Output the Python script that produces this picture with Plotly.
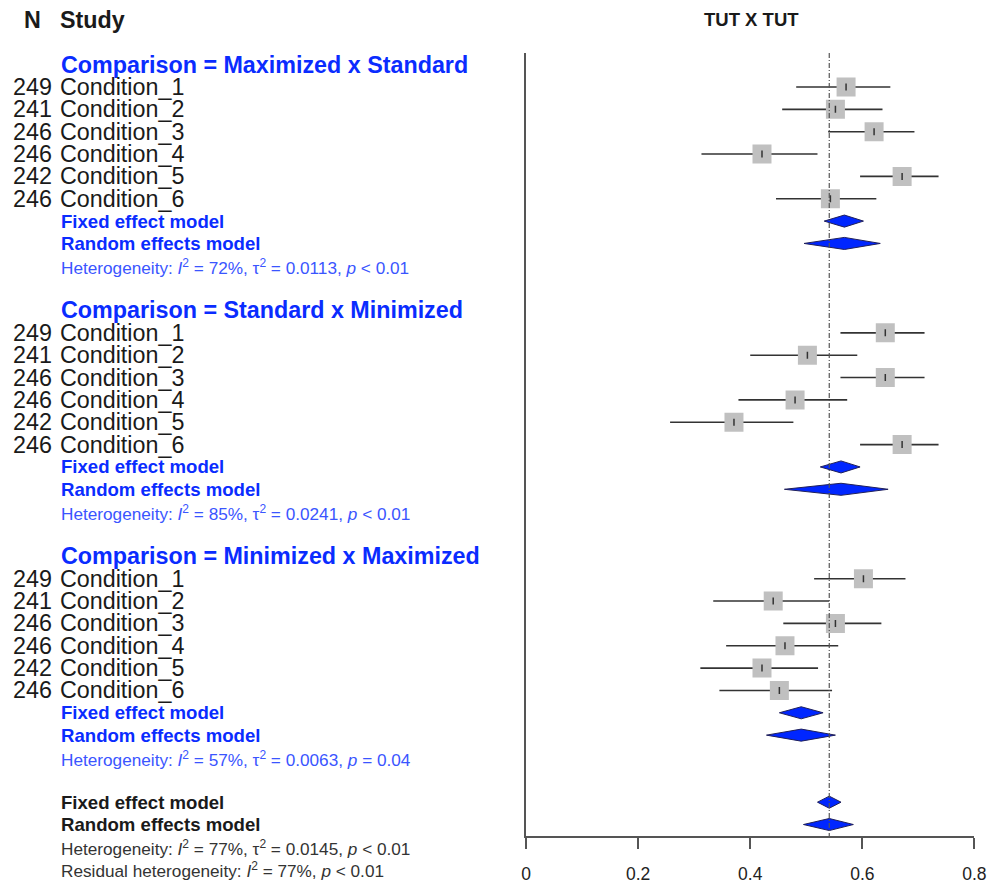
import plotly.graph_objects as go

# ---- data -------------------------------------------------------------
studies = ["Condition_1", "Condition_2", "Condition_3",
           "Condition_4", "Condition_5", "Condition_6"]
n_obs = [249, 241, 246, 246, 242, 246]

group_titles = ["Comparison = Maximized x Standard",
                "Comparison = Standard x Minimized",
                "Comparison = Minimized x Maximized"]

g1_est = [0.571, 0.552, 0.621, 0.421, 0.671, 0.543]
g1_lo = [0.482, 0.457, 0.539, 0.313, 0.596, 0.446]
g1_hi = [0.650, 0.636, 0.693, 0.520, 0.736, 0.625]
g1_fixed = [0.568, 0.532, 0.602]
g1_random = [0.568, 0.496, 0.632]

g2_est = [0.641, 0.502, 0.641, 0.480, 0.371, 0.671]
g2_lo = [0.561, 0.400, 0.561, 0.379, 0.257, 0.596]
g2_hi = [0.711, 0.591, 0.711, 0.573, 0.477, 0.736]
g2_fixed = [0.562, 0.525, 0.596]
g2_random = [0.562, 0.461, 0.646]

g3_est = [0.602, 0.441, 0.552, 0.462, 0.421, 0.452]
g3_lo = [0.514, 0.334, 0.459, 0.357, 0.311, 0.345]
g3_hi = [0.677, 0.541, 0.634, 0.557, 0.521, 0.546]
g3_fixed = [0.491, 0.452, 0.530]
g3_random = [0.491, 0.429, 0.552]

overall_fixed = [0.541, 0.520, 0.562]
overall_random = [0.541, 0.495, 0.584]

group_het = [
    "Heterogeneity: <i>I</i><sup>2</sup> = 72%, τ<sup>2</sup> = 0.0113, <i>p</i> &lt; 0.01",
    "Heterogeneity: <i>I</i><sup>2</sup> = 85%, τ<sup>2</sup> = 0.0241, <i>p</i> &lt; 0.01",
    "Heterogeneity: <i>I</i><sup>2</sup> = 57%, τ<sup>2</sup> = 0.0063, <i>p</i> = 0.04",
]
overall_het = "Heterogeneity: <i>I</i><sup>2</sup> = 77%, τ<sup>2</sup> = 0.0145, <i>p</i> &lt; 0.01"
resid_het = "Residual heterogeneity: <i>I</i><sup>2</sup> = 77%, <i>p</i> &lt; 0.01"

x_ticks = [0, 0.2, 0.4, 0.6, 0.8]
x_tick_text = ["0", "0.2", "0.4", "0.6", "0.8"]

# ---- layout geometry ----------------------------------------------------
W, H = 990, 884
ROW0, ROWH = 20.0, 22.4          # pixel centre of row 0 and row pitch
PLOT_L, PLOT_R = 525, 973        # forest panel horizontal extent (px)
PLOT_T, PLOT_B = 53, 838         # forest panel vertical extent (px)
# horizontal layout correction (the page lays the figure out slightly narrower)
X_OFF, X_SCALE = 4.4, 0.982

BLUE = "#0a2cff"
HET_BLUE = "#3a55ff"
DARK = "#1a1a1a"
FONT = "Liberation Sans, Arial, sans-serif"
BIG = 23.3
TXT_L = 59                        # left edge of study / label column
NUM_R = 51                        # right edge of the N column


def row_px(r):
    return ROW0 + ROWH * r


def paper_y(r):
    return 1 - row_px(r) / H


def paper_x(px):
    return (px - X_OFF) / X_SCALE / W


y_top = (PLOT_T - ROW0) / ROWH
y_bot = (PLOT_B - ROW0) / ROWH

groups = [
    (g1_est, g1_lo, g1_hi, g1_fixed, g1_random),
    (g2_est, g2_lo, g2_hi, g2_fixed, g2_random),
    (g3_est, g3_lo, g3_hi, g3_fixed, g3_random),
]
group_start = [2, 13, 24]          # row of each subgroup title

fig = go.Figure()
annotations = []


def add_text(px_x, r, text, size, color, bold=False, anchor="left"):
    annotations.append(dict(
        x=paper_x(px_x), y=paper_y(r), xref="paper", yref="paper",
        text=f"<b>{text}</b>" if bold else text, showarrow=False,
        xanchor=anchor, yanchor="middle", borderpad=0, borderwidth=0,
        font=dict(family=FONT, size=size, color=color),
    ))


def add_diamond(vals, r, half=0.27):
    est, lo, hi = vals
    fig.add_trace(go.Scatter(
        x=[lo, est, hi, est, lo], y=[r, r - half, r, r + half, r],
        mode="lines", fill="toself", fillcolor="#0026ff",
        line=dict(color="#20205a", width=1), hoverinfo="skip",
        showlegend=False,
    ))


# column headers
add_text(31.5, 0, "N", BIG, DARK, bold=True, anchor="center")
add_text(TXT_L, 0, "Study", BIG, DARK, bold=True)
add_text(750, 0, "TUT X TUT", 18.5, DARK, bold=True, anchor="center")

for gi, (est, lo, hi, fixed, rand) in enumerate(groups):
    r0 = group_start[gi]
    add_text(TXT_L + 1, r0, group_titles[gi], BIG, BLUE, bold=True)
    rows = [r0 + 1 + k for k in range(len(studies))]
    for k, r in enumerate(rows):
        add_text(NUM_R, r, str(n_obs[k]), BIG, DARK, anchor="right")
        add_text(TXT_L, r, studies[k], BIG, DARK)

    # confidence intervals
    cx, cy = [], []
    for k, r in enumerate(rows):
        cx += [lo[k], hi[k], None]
        cy += [r, r, None]
    fig.add_trace(go.Scatter(x=cx, y=cy, mode="lines",
                             line=dict(color="#333333", width=1.6),
                             hoverinfo="skip", showlegend=False))
    # study squares
    fig.add_trace(go.Scatter(x=est, y=rows, mode="markers",
                             marker=dict(symbol="square", size=19,
                                         color="#c0c0c0",
                                         line=dict(width=0)),
                             hoverinfo="skip", showlegend=False))
    fig.add_trace(go.Scatter(x=est, y=rows, mode="markers",
                             marker=dict(symbol="line-ns", size=5,
                                         line=dict(width=1.5, color="#333333")),
                             hoverinfo="skip", showlegend=False))

    r_fix = r0 + 7
    add_text(TXT_L + 1, r_fix, "Fixed effect model", 18.6, BLUE, bold=True)
    add_text(TXT_L + 1, r_fix + 1, "Random effects model", 18.6, BLUE, bold=True)
    add_text(TXT_L + 1, r_fix + 2.05, group_het[gi], 17.2, HET_BLUE)
    add_diamond(fixed, r_fix)
    add_diamond(rand, r_fix + 1)

# overall summary
add_text(TXT_L + 1, 35, "Fixed effect model", 18.6, DARK, bold=True)
add_text(TXT_L + 1, 36, "Random effects model", 18.6, DARK, bold=True)
add_text(TXT_L + 1, 37.05, overall_het, 17.2, "#333333")
add_text(TXT_L + 1, 38.05, resid_het, 17.2, "#333333")
add_diamond(overall_fixed, 35)
add_diamond(overall_random, 36)

# reference line at the overall estimate
fig.add_shape(type="line", x0=overall_fixed[0], x1=overall_fixed[0],
              y0=y_top, y1=y_bot, xref="x", yref="y",
              line=dict(color="#555555", width=1.2, dash="5px,2px,1px,2px"))

fig.update_layout(
    width=W, height=H, autosize=False, margin=dict(l=0, r=0, t=0, b=0),
    paper_bgcolor="white", plot_bgcolor="white",
    annotations=annotations, showlegend=False,
    xaxis=dict(domain=[paper_x(PLOT_L), paper_x(PLOT_R)], range=[0, 0.8],
               showgrid=False, zeroline=False, showline=True,
               linecolor="#555555", linewidth=1.5,
               ticks="outside", ticklen=11, tickwidth=1.5,
               tickcolor="#555555", tickvals=x_ticks, ticktext=x_tick_text,
               ticklabelstandoff=10, ticklabeloverflow="allow",
               tickfont=dict(family=FONT, size=17.5, color="#222222")),
    yaxis=dict(domain=[1 - PLOT_B / H, 1 - PLOT_T / H],
               range=[y_bot, y_top], showgrid=False, zeroline=False,
               showline=True, linecolor="#555555", linewidth=1.5,
               showticklabels=False, ticks=""),
)

fig.write_html("out.html")
